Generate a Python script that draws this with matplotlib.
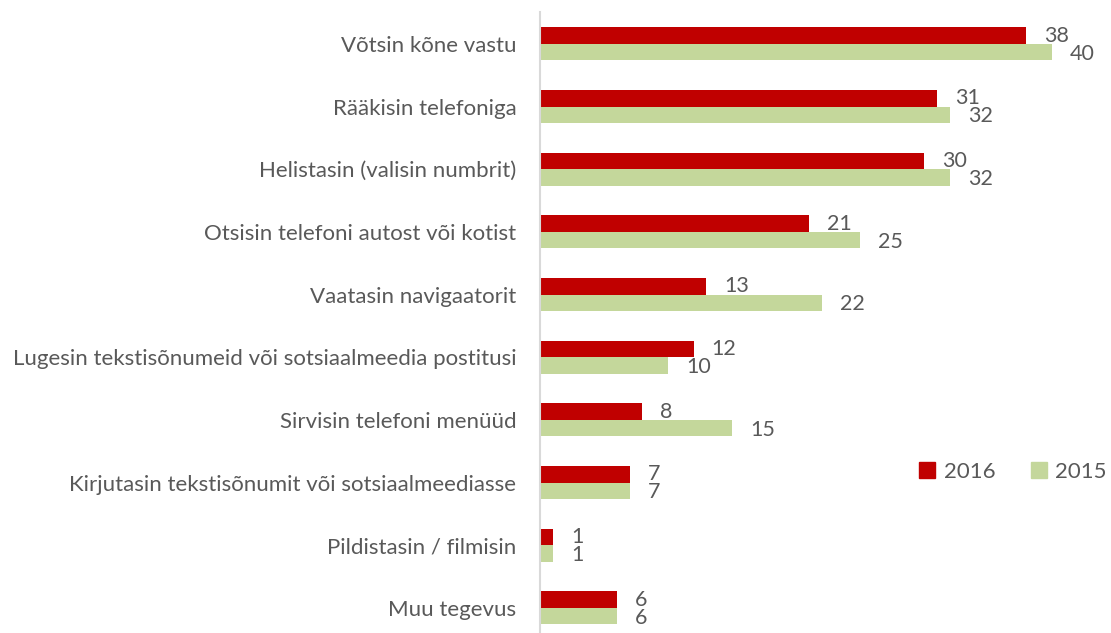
import matplotlib
matplotlib.use('Agg')
import matplotlib.pyplot as plt
from matplotlib.patches import Patch
import numpy as np

plt.rcParams['font.family'] = ['Lato', 'DejaVu Sans']

# andmed
categories = [
    'Võtsin kõne vastu',
    'Rääkisin telefoniga',
    'Helistasin (valisin numbrit)',
    'Otsisin telefoni autost või kotist',
    'Vaatasin navigaatorit',
    'Lugesin tekstisõnumeid või sotsiaalmeedia postitusi',
    'Sirvisin telefoni menüüd',
    'Kirjutasin tekstisõnumit või sotsiaalmeediasse',
    'Pildistasin / filmisin',
    'Muu tegevus',
]
v2016 = [38, 31, 30, 21, 13, 12, 8, 7, 1, 6]
v2015 = [40, 32, 32, 25, 22, 10, 15, 7, 1, 6]

red = '#C00000'
green = '#C4D79B'
txt = '#595959'

fig = plt.figure(figsize=(11.11, 6.33), dpi=100)
ax = fig.add_axes([540 / 1111, 0, 560 / 1111, 621 / 633])

y = np.arange(len(categories))
h = 0.263
ax.barh(y - h / 2, v2016, height=h, color=red)
ax.barh(y + h / 2, v2015, height=h, color=green)

# sildid
for i in range(len(categories)):
    ax.annotate(str(v2016[i]), (v2016[i], y[i] - h / 2), xytext=(13, 0),
                textcoords='offset points', ha='left', va='center',
                fontsize=15.5, color=txt)
    ax.annotate(str(v2015[i]), (v2015[i], y[i] + h / 2), xytext=(13, -1),
                textcoords='offset points', ha='left', va='center',
                fontsize=15.5, color=txt)

ax.set_xlim(0, 560 / 12.8)
ax.set_ylim(9.4, -0.51)
ax.set_yticks(y)
ax.set_yticklabels(categories, fontsize=16, color=txt)
ax.tick_params(axis='y', length=0, pad=17)
ax.set_xticks([])
for s in ['top', 'right', 'bottom']:
    ax.spines[s].set_visible(False)
ax.spines['left'].set_color('#D9D9D9')
ax.spines['left'].set_linewidth(1.5)

handles = [Patch(color=red, label='2016'), Patch(color=green, label='2015')]
fig.legend(handles=handles, loc='center right', bbox_to_anchor=(1107 / 1111, 1 - 472 / 633),
           ncol=2, frameon=False, fontsize=16, handlelength=0.7, handleheight=0.7,
           handletextpad=0.4, columnspacing=1.6, labelcolor=txt,
           borderpad=0, borderaxespad=0)

fig.savefig('out.png', dpi=100)
